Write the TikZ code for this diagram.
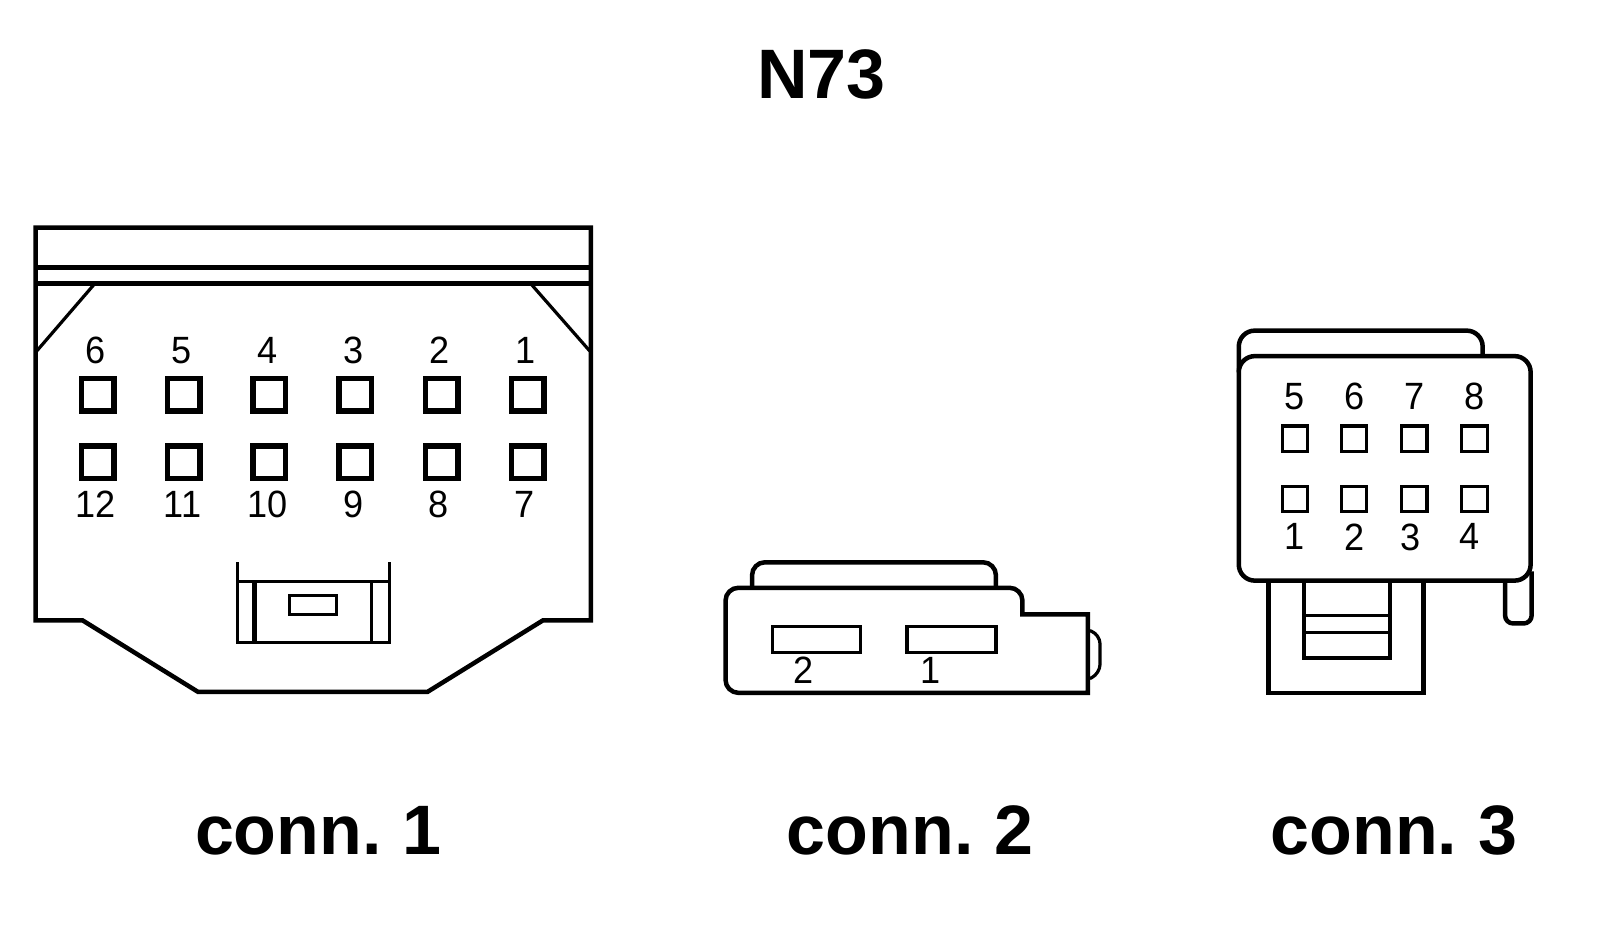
\documentclass[tikz,border=0pt]{standalone}
\usepackage{fontspec}
\setmainfont[WordSpace=0.75]{Liberation Sans}
\newfontfamily\pinfont[FakeStretch=0.95]{Liberation Sans}
\tikzset{
  wall/.style={line width=4.5pt},
  thinwall/.style={line width=3.2pt},
  pinbig/.style={draw, line width=5.5pt, minimum size=32.5pt, inner sep=0pt},
  pinsmall/.style={draw, line width=3.2pt, minimum size=25.5pt, inner sep=0pt},
  slot/.style={draw, line width=3.2pt, inner sep=0pt},
  title/.style={font=\bfseries\fontsize{70}{70}\selectfont, inner sep=0pt},
  number/.style={font=\pinfont\fontsize{38}{38}\selectfont, inner sep=0pt},
  every label/.style={font=\pinfont\fontsize{38}{38}\selectfont, inner sep=0pt}
}
\begin{document}
\begin{tikzpicture}[x=1.0204pt, y=-1.0204pt]
            \useasboundingbox (0,0) rectangle (1568,929);
            \node[title] (heading) at (805,73) {N73};
            \node[title] (name1) at (312,814) {conn. 1};
            \node[title] (name2) at (892,814) {conn. 2};
            \node[title] (name3) at (1366,814) {conn. 3};
            % conn. 1
            \draw[wall] (35,223) -- (579,223) -- (579,608) -- (532,608) -- (419,678) -- (194,678) -- (81,608) -- (35,608) -- cycle;
            \draw[wall] (35,262) -- (579,262);
            \draw[wall] (35,278) -- (579,278);
            \draw[thinwall] (92,279) -- (36,344);
            \draw[thinwall] (521,279) -- (578,344);
            \node[pinbig, label={[label distance=12pt, xshift=-2pt]above:6}] (a6) at (96,387) {};
            \node[pinbig, label={[label distance=12pt, xshift=-2pt]above:5}] (a5) at (180,387) {};
            \node[pinbig, label={[label distance=12pt, xshift=-2pt]above:4}] (a4) at (264,387) {};
            \node[pinbig, label={[label distance=12pt, xshift=-2pt]above:3}] (a3) at (348,387) {};
            \node[pinbig, label={[label distance=12pt, xshift=-2pt]above:2}] (a2) at (433,387) {};
            \node[pinbig, label={[label distance=12pt, xshift=-2pt]above:1}] (a1) at (517,387) {};
            \node[pinbig, label={[label distance=10pt, xshift=-2pt]below:12}] (a12) at (96,453) {};
            \node[pinbig, label={[label distance=10pt, xshift=-1pt]below:11}] (a11) at (180,453) {};
            \node[pinbig, label={[label distance=10pt, xshift=-2pt]below:10}] (a10) at (264,453) {};
            \node[pinbig, label={[label distance=10pt, xshift=-2pt]below:9}] (a9) at (348,453) {};
            \node[pinbig, label={[label distance=10pt, xshift=-3pt]below:8}] (a8) at (433,453) {};
            \node[pinbig, label={[label distance=10pt, xshift=-3pt]below:7}] (a7) at (517,453) {};
            % latch
            \draw[thinwall] (233,551) -- (233,630) -- (382,630) -- (382,551);
            \draw[thinwall] (233,570) -- (382,570);
            \draw[line width=5pt] (249,570) -- (249,630);
            \draw[thinwall] (364,570) -- (364,630);
            \node[slot, minimum width=47pt, minimum height=19pt] (catch) at (307,593) {};
            % conn. 2
            \draw[wall, rounded corners=13pt] (711,630) -- (711,576) -- (1002,576) [sharp corners] -- (1002,602) -- (1066,602) -- (1066,679) [rounded corners=13pt] -- (711,679) -- cycle;
            \draw[wall, rounded corners=13pt] (737,576) -- (737,551) -- (976,551) -- (976,576);
            \draw[thinwall, rounded corners=9pt] (1068,618) -- (1078,622) -- (1078,660) -- (1068,665);
            \node[slot, minimum width=88pt, minimum height=26pt] (s2) at (800,627) {};
            \node[slot, minimum width=89pt, minimum height=26pt] (s1) at (932.5,627) {};
            \node[number] (n2) at (787,657) {2};
            \node[number] (n1) at (912,657) {1};
            % conn. 3
            \draw[wall, rounded corners=16pt] (1214,365) -- (1214,324) -- (1453,324) -- (1453,349);
            \draw[wall] (1243,569) -- (1243,679) -- (1395,679) -- (1395,569);
            \draw[wall] (1278,569) -- (1278,645) -- (1362,645) -- (1362,569);
            \draw[thinwall] (1278,603) -- (1362,603);
            \draw[thinwall] (1278,620) -- (1362,620);
            \draw[wall, rounded corners=8pt] (1475,569) -- (1475,611) -- (1501,611) -- (1501,560);
            \draw[wall, fill=white, rounded corners=16pt] (1214,349) rectangle (1500,569);
            \node[pinsmall, label={[label distance=14.5pt]above:5}] (b5) at (1269,430) {};
            \node[pinsmall, label={[label distance=14.5pt]above:6}] (b6) at (1327,430) {};
            \node[pinsmall, label={[label distance=14.5pt]above:7}] (b7) at (1386,430) {};
            \node[pinsmall, label={[label distance=14.5pt]above:8}] (b8) at (1445,430) {};
            \node[pinsmall, label={[label distance=10pt]below:1}] (b1) at (1269,489) {};
            \node[pinsmall, label={[label distance=10pt]below:2}] (b2) at (1327,489) {};
            \node[pinsmall, label={[label distance=10pt, xshift=-4pt]below:3}] (b3) at (1386,489) {};
            \node[pinsmall, label={[label distance=10pt, xshift=-5pt]below:4}] (b4) at (1445,489) {};
\end{tikzpicture}
\end{document}
